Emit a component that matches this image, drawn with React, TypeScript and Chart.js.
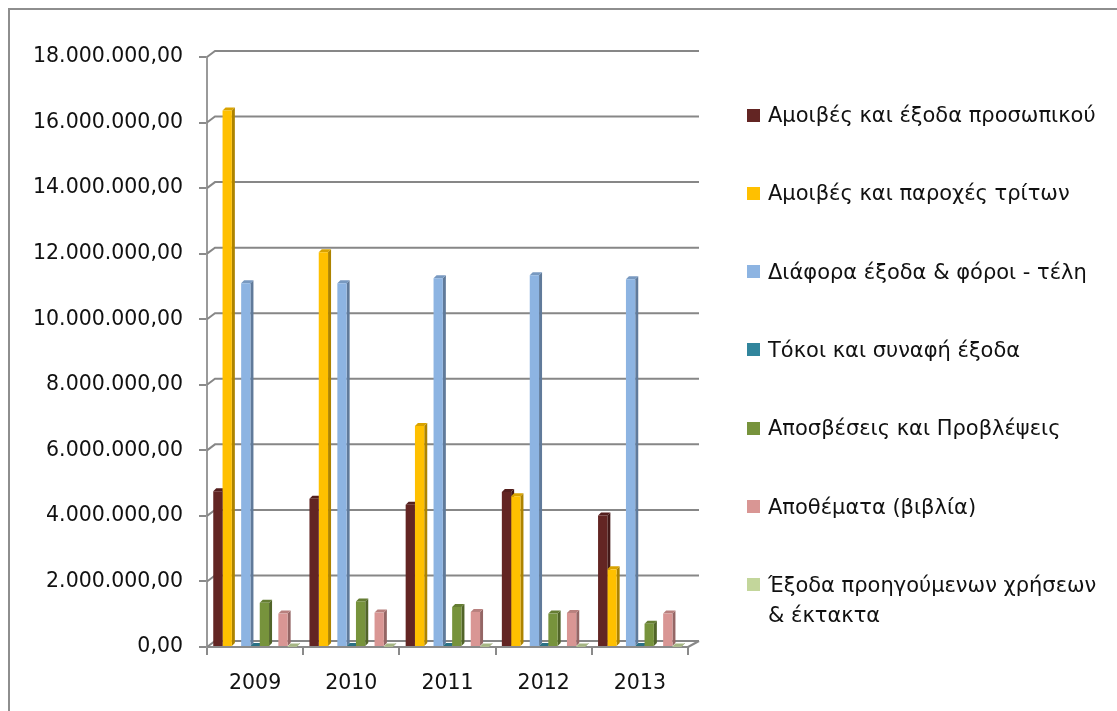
import React, { useEffect, useRef } from 'react';
import { Chart, registerables } from 'chart.js';

Chart.register(...registerables);

// ---------- data ----------
const categories = ['2009', '2010', '2011', '2012', '2013'];
const personnelCosts = [4750000, 4520000, 4340000, 4730000, 4010000];
const thirdPartyFees = [16370000, 12040000, 6740000, 4600000, 2370000];
const miscExpensesTaxes = [11100000, 11100000, 11250000, 11340000, 11220000];
const interestExpenses = [30000, 30000, 30000, 30000, 30000];
const depreciationProvisions = [1350000, 1390000, 1220000, 1020000, 710000];
const inventoryBooks = [1020000, 1050000, 1070000, 1040000, 1020000];
const priorYearsExtraordinary = [15000, 15000, 15000, 15000, 15000];
// series without values (kept in the original chart, not shown in the legend)
const emptySeries: (number | null)[] = [null, null, null, null, null];

const seriesNames = [
  'Αμοιβές και έξοδα προσωπικού',
  'Αμοιβές και παροχές τρίτων',
  'Διάφορα έξοδα & φόροι - τέλη',
  'Τόκοι και συναφή έξοδα',
  'Αποσβέσεις και Προβλέψεις',
  'Αποθέματα (βιβλία)',
  'Έξοδα προηγούμενων χρήσεων & έκτακτα',
];
const legendLines = [
  ['Αμοιβές και έξοδα προσωπικού'],
  ['Αμοιβές και παροχές τρίτων'],
  ['Διάφορα έξοδα & φόροι - τέλη'],
  ['Τόκοι και συναφή έξοδα'],
  ['Αποσβέσεις και Προβλέψεις'],
  ['Αποθέματα (βιβλία)'],
  ['Έξοδα προηγούμενων χρήσεων', '& έκτακτα'],
];
const yMin = 0;
const yMax = 18000000;
const yStep = 2000000;

// ---------- styles ----------
const seriesColors = ['#632523', '#FFC000', '#8DB4E2', '#31859C', '#77933C', '#D99694', '#C3D69B'];
const FONT = "'DejaVu Sans', sans-serif";

function fmt(v: number): string {
  const s = Math.round(v).toString().replace(/\B(?=(\d{3})+(?!\d))/g, '.');
  return s + ',00';
}

function shade(hex: string, f: number): string {
  const n = parseInt(hex.slice(1), 16);
  const r = Math.round(((n >> 16) & 255) * f);
  const g = Math.round(((n >> 8) & 255) * f);
  const b = Math.round((n & 255) * f);
  return `rgb(${r},${g},${b})`;
}

const depth3d = {
  id: 'depth3d',
  beforeDatasetsDraw(chart: any) {
    const { ctx, chartArea, scales } = chart;
    const { left, right, bottom } = chartArea;
    const y = scales.y;
    ctx.save();
    ctx.strokeStyle = '#878787';
    ctx.lineWidth = 2;
    y.ticks.forEach((t: any) => {
      const py = y.getPixelForValue(t.value);
      ctx.beginPath();
      ctx.moveTo(left, py);
      ctx.lineTo(left + 8, py - 6);
      ctx.lineTo(right + 11, py - 6);
      ctx.stroke();
    });
    ctx.beginPath();
    ctx.moveTo(right, bottom);
    ctx.lineTo(right + 11, bottom - 6);
    ctx.stroke();

    const d = 3;
    chart.data.datasets.forEach((ds: any, di: number) => {
      const meta = chart.getDatasetMeta(di);
      if (!meta.visible || !ds.backgroundColor) return;
      meta.data.forEach((bar: any, i: number) => {
        if (ds.data[i] == null) return;
        const p = bar.getProps(['x', 'y', 'base', 'width'], true);
        if (!isFinite(p.y)) return;
        const l = p.x - p.width / 2;
        const r = p.x + p.width / 2;
        ctx.fillStyle = shade(ds.backgroundColor, 0.68);
        ctx.beginPath();
        ctx.moveTo(r, p.y);
        ctx.lineTo(r + d, p.y - d);
        ctx.lineTo(r + d, p.base - d);
        ctx.lineTo(r, p.base);
        ctx.closePath();
        ctx.fill();
        ctx.fillStyle = shade(ds.backgroundColor, 0.85);
        ctx.beginPath();
        ctx.moveTo(l, p.y);
        ctx.lineTo(l + d, p.y - d);
        ctx.lineTo(r + d, p.y - d);
        ctx.lineTo(r, p.y);
        ctx.closePath();
        ctx.fill();
      });
    });
    ctx.restore();
  },
};

export default function App() {
  const canvasRef = useRef<HTMLCanvasElement | null>(null);

  useEffect(() => {
    if (!canvasRef.current) return;
    const mk = (label: string, data: (number | null)[], color: string | null) => ({
      label,
      data,
      backgroundColor: color,
      borderWidth: 0,
    });
    const chart = new Chart(canvasRef.current, {
      type: 'bar',
      data: {
        labels: categories,
        datasets: [
          mk(seriesNames[0], personnelCosts, seriesColors[0]),
          mk(seriesNames[1], thirdPartyFees, seriesColors[1]),
          mk('', emptySeries, null),
          mk(seriesNames[2], miscExpensesTaxes, seriesColors[2]),
          mk(seriesNames[3], interestExpenses, seriesColors[3]),
          mk(seriesNames[4], depreciationProvisions, seriesColors[4]),
          mk('', emptySeries, null),
          mk(seriesNames[5], inventoryBooks, seriesColors[5]),
          mk(seriesNames[6], priorYearsExtraordinary, seriesColors[6]),
        ] as any,
      },
      options: {
        animation: false,
        responsive: true,
        maintainAspectRatio: false,
        layout: { padding: { left: 0, top: 47, right: 429, bottom: 14 } },
        datasets: { bar: { barPercentage: 1, categoryPercentage: 0.87 } },
        plugins: { legend: { display: false }, tooltip: { enabled: false } },
        scales: {
          x: {
            afterFit: (s: any) => { s.height = 50; },
            grid: {
              display: true,
              drawOnChartArea: false,
              drawTicks: true,
              tickLength: 8,
              color: '#8a8a8a',
              lineWidth: 2,
              offset: true,
            },
            border: { display: true, color: '#8a8a8a', width: 2 },
            ticks: { color: '#111', font: { family: FONT, size: 20.5 }, padding: 16, maxRotation: 0 },
          },
          y: {
            min: yMin,
            max: yMax,
            afterFit: (s: any) => { s.width = 197; },
            grid: {
              display: true,
              drawOnChartArea: false,
              drawTicks: true,
              tickLength: 8,
              color: '#8a8a8a',
              lineWidth: 2,
            },
            border: { display: true, color: '#9a9a9a', width: 2 },
            ticks: {
              stepSize: yStep,
              color: '#111',
              font: { family: FONT, size: 20.5 },
              padding: 16,
              callback: (v: any) => fmt(Number(v)),
            },
          },
        },
      },
      plugins: [depth3d],
    });
    return () => chart.destroy();
  }, []);

  return (
    <div style={{ position: 'fixed', inset: 0, overflow: 'hidden', background: '#fff' }}>
      <div
        style={{
          position: 'absolute',
          left: 8,
          top: 8,
          width: 1130,
          height: 720,
          border: '2px solid #8e8e8e',
          background: '#fff',
        }}
      >
        <div style={{ position: 'absolute', left: 0, top: 0, width: 1107, height: 701 }}>
          <canvas ref={canvasRef} />
        </div>
        {legendLines.map((lines, i) => {
          const cy = 105 + 78.3 * i;
          return (
            <React.Fragment key={i}>
              <div
                style={{
                  position: 'absolute',
                  left: 737,
                  top: cy - 6.5,
                  width: 13,
                  height: 13,
                  background: seriesColors[i],
                }}
              />
              <div
                style={{
                  position: 'absolute',
                  left: 758,
                  top: cy - 15,
                  fontFamily: FONT,
                  fontSize: 21,
                  lineHeight: '30px',
                  color: '#111',
                  whiteSpace: 'nowrap',
                }}
              >
                {lines.map((ln, k) => (
                  <div key={k}>{ln}</div>
                ))}
              </div>
            </React.Fragment>
          );
        })}
      </div>
    </div>
  );
}
